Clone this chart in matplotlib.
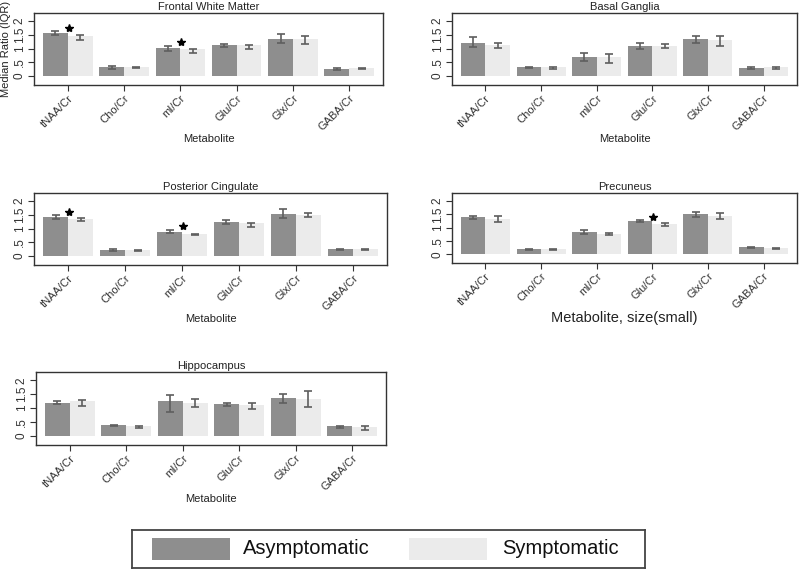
import matplotlib
matplotlib.use("Agg")
import matplotlib.pyplot as plt
import numpy as np
from matplotlib.patches import Rectangle

plt.rcParams['font.family'] = ['Liberation Sans', 'DejaVu Sans']

metabolites = ["tNAA/Cr", "Cho/Cr", "mI/Cr", "Glu/Cr", "Glx/Cr", "GABA/Cr"]
group_names = ["Asymptomatic", "Symptomatic"]
region_names = ["Frontal White Matter", "Basal Ganglia", "Posterior Cingulate",
                "Precuneus", "Hippocampus"]

# medians, q1, q3 per region: [asymptomatic, symptomatic]
fwm_asym_med = [1.57, 0.32, 1.02, 1.12, 1.35, 0.26]
fwm_asym_lo = [1.50, 0.27, 0.93, 1.05, 1.22, 0.23]
fwm_asym_hi = [1.63, 0.35, 1.10, 1.15, 1.52, 0.28]
fwm_sym_med = [1.47, 0.32, 0.99, 1.12, 1.35, 0.28]
fwm_sym_lo = [1.33, 0.29, 0.85, 1.00, 1.15, 0.26]
fwm_sym_hi = [1.50, 0.33, 0.98, 1.12, 1.45, 0.28]

bg_asym_med = [1.20, 0.32, 0.71, 1.10, 1.35, 0.28]
bg_asym_lo = [1.05, 0.28, 0.55, 1.00, 1.20, 0.24]
bg_asym_hi = [1.42, 0.34, 0.83, 1.20, 1.47, 0.33]
bg_sym_med = [1.14, 0.33, 0.69, 1.10, 1.31, 0.32]
bg_sym_lo = [1.02, 0.27, 0.47, 1.02, 1.08, 0.26]
bg_sym_hi = [1.22, 0.33, 0.80, 1.17, 1.45, 0.32]

pc_asym_med = [1.42, 0.21, 0.87, 1.25, 1.52, 0.24]
pc_asym_lo = [1.35, 0.19, 0.85, 1.18, 1.40, 0.22]
pc_asym_hi = [1.48, 0.24, 0.96, 1.30, 1.70, 0.24]
pc_sym_med = [1.36, 0.20, 0.81, 1.19, 1.50, 0.24]
pc_sym_lo = [1.27, 0.17, 0.75, 1.06, 1.41, 0.20]
pc_sym_hi = [1.37, 0.20, 0.82, 1.21, 1.58, 0.25]

pr_asym_med = [1.38, 0.19, 0.84, 1.26, 1.52, 0.26]
pr_asym_lo = [1.32, 0.16, 0.77, 1.20, 1.40, 0.24]
pr_asym_hi = [1.45, 0.20, 0.90, 1.28, 1.60, 0.26]
pr_sym_med = [1.33, 0.19, 0.77, 1.14, 1.42, 0.23]
pr_sym_lo = [1.20, 0.17, 0.72, 1.07, 1.32, 0.20]
pr_sym_hi = [1.45, 0.20, 0.80, 1.17, 1.56, 0.23]

hc_asym_med = [1.18, 0.40, 1.24, 1.16, 1.38, 0.34]
hc_asym_lo = [1.13, 0.37, 0.85, 1.08, 1.20, 0.30]
hc_asym_hi = [1.25, 0.38, 1.48, 1.20, 1.52, 0.34]
hc_sym_med = [1.25, 0.35, 1.19, 1.12, 1.32, 0.31]
hc_sym_lo = [1.06, 0.30, 1.03, 0.98, 1.05, 0.20]
hc_sym_hi = [1.28, 0.34, 1.32, 1.18, 1.60, 0.36]

# significance markers (metabolite indices) per region
fwm_sig = [0, 2]
bg_sig = []
pc_sig = [0, 2]
pr_sig = [3]
hc_sig = []

y_ticks = [0, 0.5, 1, 1.5, 2]
y_ticklabels = ["0", ".5", "1", "1.5", "2"]

regions = [
    (fwm_asym_med, fwm_asym_lo, fwm_asym_hi, fwm_sym_med, fwm_sym_lo, fwm_sym_hi, fwm_sig),
    (bg_asym_med, bg_asym_lo, bg_asym_hi, bg_sym_med, bg_sym_lo, bg_sym_hi, bg_sig),
    (pc_asym_med, pc_asym_lo, pc_asym_hi, pc_sym_med, pc_sym_lo, pc_sym_hi, pc_sig),
    (pr_asym_med, pr_asym_lo, pr_asym_hi, pr_sym_med, pr_sym_lo, pr_sym_hi, pr_sig),
    (hc_asym_med, hc_asym_lo, hc_asym_hi, hc_sym_med, hc_sym_lo, hc_sym_hi, hc_sig),
]

W, H = 800, 571
fig = plt.figure(figsize=(8, 5.71), dpi=100)

# axes boxes in pixels: left, top, right, bottom
boxes = [
    (34, 13, 383, 85),
    (452, 13, 797, 85),
    (34, 193, 387, 265),
    (452, 193, 797, 263),
    (36, 372, 386, 445),
]

c_asym = "#8e8e8e"
c_sym = "#ebebeb"
c_err = "#5e5e5e"
c_frame = "#333333"
bw = 0.44

for i, (name, data, box) in enumerate(zip(region_names, regions, boxes)):
    am, al, ah, sm, sl, sh, sig = data
    am, al, ah, sm, sl, sh = map(np.array, (am, al, ah, sm, sl, sh))
    l, t, r, b = box
    ax = fig.add_axes([l / W, 1 - b / H, (r - l) / W, (b - t) / H])
    x = np.arange(len(metabolites))
    ax.bar(x - bw / 2, am, width=bw, color=c_asym, edgecolor="none", zorder=2)
    ax.bar(x + bw / 2, sm, width=bw, color=c_sym, edgecolor="none", zorder=2)
    ax.errorbar(x - bw / 2, (al + ah) / 2, yerr=(ah - al) / 2, fmt="none",
                ecolor=c_err, elinewidth=1.2, capsize=3, capthick=1.2, zorder=3)
    ax.errorbar(x + bw / 2, (sl + sh) / 2, yerr=(sh - sl) / 2, fmt="none",
                ecolor=c_err, elinewidth=1.2, capsize=3, capthick=1.2, zorder=3)
    for k in sig:
        ax.plot(x[k] + 0.02, max(ah[k], sh[k]) + 0.13, marker="*", color="black",
                markersize=6, zorder=4)
    ax.set_xlim(-0.6, 5.6)
    ax.set_ylim(-0.33, 2.3)
    ax.set_yticks(y_ticks)
    ax.set_yticklabels(y_ticklabels, rotation=90, va="center", fontsize=8.5)
    ax.set_xticks(x)
    ax.set_xticklabels(metabolites, rotation=45, ha="right", rotation_mode="anchor",
                       fontsize=8, color="#333333")
    ax.tick_params(axis="both", length=4, width=0.8, colors="#333333", pad=2)
    for sp in ax.spines.values():
        sp.set_color(c_frame)
        sp.set_linewidth(1.0)
    ax.set_title(name, fontsize=8, pad=2, color="#222222")
    if i == 3:
        ax.set_xlabel("Metabolite, size(small)", fontsize=10.5, labelpad=0, color="#222222")
    else:
        ax.set_xlabel("Metabolite", fontsize=8, labelpad=1, color="#222222")
    if i == 0:
        ax.set_ylabel("Median Ratio (IQR)", fontsize=8, labelpad=2, color="#222222")

# legend box (pixel coordinates inside the box: 0..513 x 0..38)
lx0, lx1, ly0, ly1 = 132, 645, 530, 568
lw, lh = lx1 - lx0, ly1 - ly0
lax = fig.add_axes([lx0 / W, 1 - ly1 / H, lw / W, lh / H])
lax.set_xlim(0, lw)
lax.set_ylim(0, lh)
lax.set_xticks([])
lax.set_yticks([])
for sp in lax.spines.values():
    sp.set_color("#444444")
    sp.set_linewidth(1.3)
legend_colors = [c_asym, c_sym]
patch_x = [20, 277]
text_x = [111, 370]
for name, col, px, tx in zip(group_names, legend_colors, patch_x, text_x):
    lax.add_patch(Rectangle((px, 8), 78, 22, facecolor=col, edgecolor="none"))
    lax.text(tx, 19, name, fontsize=14.5, va="center", ha="left", color="#111111")

fig.savefig("out.png", dpi=100)
